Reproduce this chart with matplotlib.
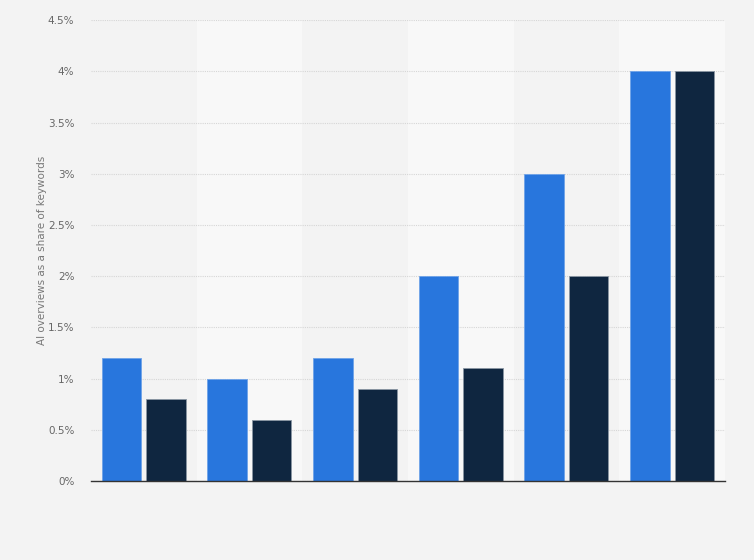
import matplotlib.pyplot as plt
import numpy as np

groups = ["1", "2", "3", "4", "5", "6"]
series_a = [1.2, 1.0, 1.2, 2.0, 3.0, 4.0]
series_b = [0.8, 0.6, 0.9, 1.1, 2.0, 4.0]
yticks = [0, 0.5, 1, 1.5, 2, 2.5, 3, 3.5, 4, 4.5]
ytick_labels = ["0%", "0.5%", "1%", "1.5%", "2%", "2.5%", "3%", "3.5%", "4%", "4.5%"]

fig = plt.figure(figsize=(7.54, 5.6), dpi=100, facecolor="#f3f3f3")
ax = fig.add_axes([0.1207, 0.141, 0.8408, 0.823])
ax.set_facecolor("#f3f3f3")

x = np.arange(len(groups))
# alternating column bands
for i in x:
    if i % 2 == 1:
        ax.axvspan(i - 0.5, i + 0.5, color="#f8f8f8", zorder=0, lw=0)

w = 0.375
ax.bar(x - 0.21, series_a, width=w, color="#2876dd", edgecolor="#6fa3e8", linewidth=0.6, zorder=3)
ax.bar(x + 0.21, series_b, width=w, color="#0f2640", edgecolor="#8a96a3", linewidth=0.6, zorder=3)

ax.set_xlim(-0.5, len(groups) - 0.5)
ax.set_ylim(0, 4.5)
ax.set_yticks(yticks)
ax.set_yticklabels(ytick_labels, fontsize=7.5, color="#666666")
ax.set_xticks([])
ax.tick_params(axis="y", length=0, pad=12)
ax.grid(axis="y", linestyle=(0, (1, 1)), color="#d6d6d6", linewidth=0.8, zorder=1)

for s in ["top", "right", "left"]:
    ax.spines[s].set_visible(False)
ax.spines["bottom"].set_color("#333333")
ax.spines["bottom"].set_linewidth(1.0)
ax.spines["bottom"].set_zorder(4)

ax.set_ylabel("AI overviews as a share of keywords", fontsize=7.5, color="#777777")
ax.yaxis.set_label_coords(-0.07, 0.5)

fig.savefig("out.png", dpi=100, facecolor=fig.get_facecolor())
